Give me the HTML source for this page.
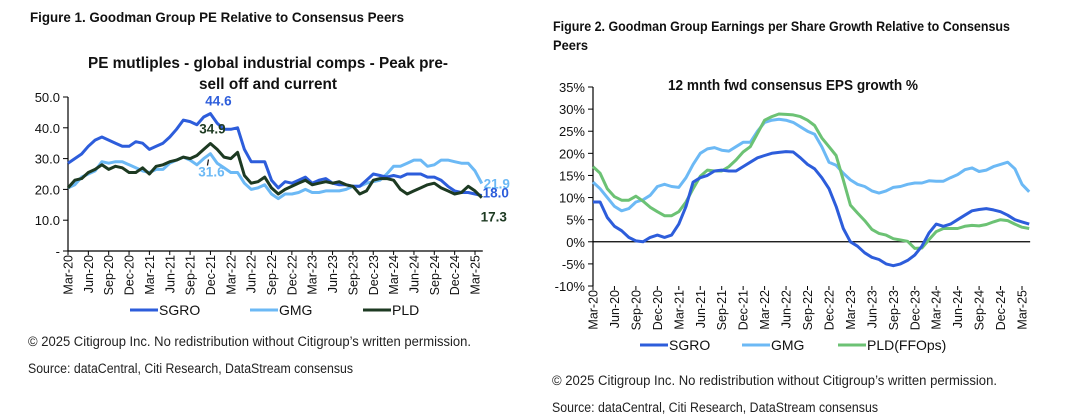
<!DOCTYPE html>
<html><head><meta charset="utf-8">
<style>
html,body{margin:0;padding:0;background:#fff;}
body{width:1077px;height:416px;overflow:hidden;position:relative;font-family:"Liberation Sans",sans-serif;}
svg{position:absolute;left:0;top:0;}
text{font-family:"Liberation Sans",sans-serif;}
</style></head><body>
<svg id="s" width="1077" height="416">
<text x="30" y="22" font-size="14" font-weight="bold" fill="#111" textLength="374" lengthAdjust="spacingAndGlyphs">Figure 1. Goodman Group PE Relative to Consensus Peers</text>
<text x="553" y="31" font-size="14" font-weight="bold" fill="#111" textLength="457" lengthAdjust="spacingAndGlyphs">Figure 2. Goodman Group Earnings per Share Growth Relative to Consensus</text>
<text x="553" y="50" font-size="14" font-weight="bold" fill="#111" textLength="35" lengthAdjust="spacingAndGlyphs">Peers</text>
<text x="268" y="68" font-size="16" font-weight="bold" text-anchor="middle" fill="#111" textLength="360" lengthAdjust="spacingAndGlyphs">PE mutliples - global industrial comps - Peak pre-</text>
<text x="268" y="89" font-size="16" font-weight="bold" text-anchor="middle" fill="#111" textLength="138" lengthAdjust="spacingAndGlyphs">sell off and current</text>
<text x="793" y="90" font-size="15" font-weight="bold" text-anchor="middle" fill="#111" textLength="250" lengthAdjust="spacingAndGlyphs">12 mnth fwd consensus EPS growth %</text>
<g id="c1"></g><g id="c2"></g>
<text x="28" y="346" font-size="13.5" fill="#222" textLength="443" lengthAdjust="spacingAndGlyphs">© 2025 Citigroup Inc. No redistribution without Citigroup’s written permission.</text>
<text x="28" y="373" font-size="13.5" fill="#222" textLength="325" lengthAdjust="spacingAndGlyphs">Source: dataCentral, Citi Research, DataStream consensus</text>
<text x="552" y="385" font-size="13.5" fill="#222" textLength="445" lengthAdjust="spacingAndGlyphs">© 2025 Citigroup Inc. No redistribution without Citigroup’s written permission.</text>
<text x="552" y="412" font-size="13.5" fill="#222" textLength="326" lengthAdjust="spacingAndGlyphs">Source: dataCentral, Citi Research, DataStream consensus</text>
</svg>
<script>
const tickLabels=["Mar-20","Jun-20","Sep-20","Dec-20","Mar-21","Jun-21","Sep-21","Dec-21","Mar-22","Jun-22","Sep-22","Dec-22","Mar-23","Jun-23","Sep-23","Dec-23","Mar-24","Jun-24","Sep-24","Dec-24","Mar-25"];
const peSGRO=[28.5,30,31.5,34,36,37,36,35,34,34,35.5,35,33,34,35,37,39.5,42.5,42,41,43.5,44.6,41.5,39.5,39.5,40,33,29,29,29,23,20.5,22.5,22,23,24,22,23,23.5,22,21.5,21.5,21,21,23,25,24.5,24,24.5,24,25,25,25,24,24,23,21,19.5,19,19,18.5,18];
const peGMG=[20.5,21.5,24,25,26,29,28.5,29,29,28,27,26,25.5,26.5,26.5,28.5,29.5,30.5,29.5,28,30,31.6,28.5,27,25.5,25.5,22,20,20.5,21.5,18.5,17,18.5,18.5,19,20,19,19,19.5,19.5,19.5,20,21,21,22,22.5,23,25,27.5,27.5,28.5,29.5,29.5,27.5,28,29.5,29.5,29,28.5,28.5,26,21.9];
const pePLD=[20.5,23,23.5,25.5,26.5,28,26.5,27.5,27,25.5,25.5,27,25,27.5,28,29,29.5,30.5,30,31,33,34.9,33,30.5,30,32,24.5,22,22.5,24,20.5,18.5,20,21,22,23,21.5,22,22.5,22,22.5,21.5,21,18.5,19.5,23,23.5,23.5,23,20,18.5,19.5,20.5,21.5,22,20.5,19.5,18.5,19,21,19.5,17.3];
const peTicks=[0,10,20,30,40,50];
const epsSGRO=[9,9,5.5,3.5,2.5,1,0.2,0,1,1.5,1,1.5,4,8,13.5,14.5,15,16,16.2,16,16,17,18,19,19.5,20,20.2,20.4,20.3,19,17.5,16.5,14.5,12,8,3,0,-1,-2.5,-3.5,-4,-5,-5.4,-5,-4.2,-3,-1,2,4,3.5,4,5,6,7,7.3,7.5,7.2,6.8,6,5,4.5,4];
const epsGMG=[13.5,12,10,8,7,7.5,9,9.5,10.5,12.5,13,12.5,12.3,14.5,17.5,20,21,21.3,20.7,20.5,21.5,22.5,22.5,25,27,27.5,27.7,27.5,27,26,25,24.3,21.5,18,17.3,15.5,14,13,12.5,11.5,11,11.5,12.3,12.5,13,13.3,13.3,13.8,13.7,13.7,14.5,15.2,16.3,16.7,15.9,16.2,17,17.5,18,16.5,13,11.3];
const epsPLD=[17,15.5,12,10.2,9.4,9.4,10.3,9.2,7.8,6.8,5.9,5.9,6.8,9,12,14.8,16.2,16,16,17,18.5,20.3,21.5,24.5,27.5,28.3,28.9,28.8,28.7,28.3,27.5,26.3,23.5,21.5,19.5,14,8.3,6.5,4.8,2.8,1.9,1.5,0.7,0.4,0.1,-1.5,-1.4,0.5,2.3,3,3,3,3.5,3.7,3.6,3.9,4.5,5,4.8,4,3.3,3];
const epsTicks=[-10,-5,0,5,10,15,20,25,30,35];

const NS="http://www.w3.org/2000/svg";
function mk(parent,tag,attrs,txt){const e=document.createElementNS(NS,tag);for(const k in attrs)e.setAttribute(k,attrs[k]);if(txt!==undefined)e.textContent=txt;parent.appendChild(e);return e;}

function drawChart(g,cfg){
  const xs=i=>cfg.x0+i*(cfg.x1-cfg.x0)/60;
  const ys=v=>cfg.yBase+(v-cfg.yMin)*(cfg.yTop-cfg.yBase)/(cfg.yMax-cfg.yMin);
  cfg.yTicks.forEach(t=>{
    const l=mk(g,'line',{x1:cfg.x0-5,x2:cfg.x0,y1:ys(t),y2:ys(t),stroke:'#000','stroke-width':1});
    
    
    const tx=mk(g,'text',{x:cfg.x0-8,y:ys(t)+5,'font-size':13,'text-anchor':'end',fill:'#111'},cfg.fmt(t));
    
    
  });
  const ya=mk(g,'line',{x1:cfg.x0,x2:cfg.x0,y1:ys(cfg.yMax),y2:ys(cfg.yMin),stroke:'#000','stroke-width':1.2});
  
  
  const xa=mk(g,'line',{x1:cfg.x0,x2:xs(61)+1,y1:ys(cfg.xAxisAt),y2:ys(cfg.xAxisAt),stroke:'#000','stroke-width':1.2});
  
  
  tickLabels.forEach((lab,k)=>{
    const x=xs(k*3);
    const tk=mk(g,'line',{x1:x,x2:x,y1:ys(cfg.yMin),y2:ys(cfg.yMin)+4,stroke:'#000'});
    
    
    const y0=ys(cfg.yMin)+4;
    const t=mk(g,'text',{x:x+4.5,y:y0,'font-size':12.5,'text-anchor':'end',fill:'#111',transform:`rotate(-90 ${x+4.5} ${y0})`},lab);
    
    
  });
  cfg.series.forEach(s=>{
    const d=s.data.map((v,i)=>(i?'L':'M')+xs(i).toFixed(1)+','+ys(v).toFixed(1)).join('');
    const p=mk(g,'path',{d:d,fill:'none',stroke:s.color,'stroke-width':3,'stroke-linejoin':'round'});
    
    
  });
  cfg.legend.forEach(L=>{
    const l=mk(g,'line',{x1:L.x,x2:L.x+28,y1:cfg.legY,y2:cfg.legY,stroke:L.color,'stroke-width':3});
    
    
    const t=mk(g,'text',{x:L.x+29,y:cfg.legY+5,'font-size':14,fill:'#111'},L.label);
    
    
  });
  return {xs,ys};
}

const c1=document.getElementById('c1');
const a1=drawChart(c1,{x0:68,x1:475,yBase:251,yTop:97,yMin:0,yMax:50,xAxisAt:0,yTicks:peTicks,
 fmt:t=>t===0?'-':t.toFixed(1),legY:310,
 series:[{name:'gmg-pe-line',data:peGMG,color:'#6cb9f5'},{name:'sgro-pe-line',data:peSGRO,color:'#2d5ddb'},{name:'pld-pe-line',data:pePLD,color:'#1d3a22'}],
 legend:[{x:130,color:'#2d5ddb',label:'SGRO'},{x:250,color:'#6cb9f5',label:'GMG'},{x:363,color:'#1d3a22',label:'PLD'}]});
function ann(g,x,y,txt,col,name){const t=mk(g,'text',{x:x,y:y,'font-size':13.5,'font-weight':'bold','text-anchor':'middle',fill:col},txt);}
ann(c1,a1.xs(21)+8,a1.ys(peSGRO[21])-8,peSGRO[21].toFixed(1),'#2d5ddb','sgro-peak-label');
ann(c1,a1.xs(21)+2,a1.ys(pePLD[21])-10,pePLD[21].toFixed(1),'#1d3a22','pld-peak-label');
ann(c1,a1.xs(21)+1,a1.ys(peGMG[21])+23,peGMG[21].toFixed(1),'#6cb9f5','gmg-peak-label');
const pk=mk(c1,'line',{x1:a1.xs(21)-2,y1:a1.ys(pePLD[21])+16,x2:a1.xs(21)-3,y2:a1.ys(pePLD[21])+22,stroke:'#111','stroke-width':1.2});


ann(c1,a1.xs(61)+15,a1.ys(peGMG[61])+5,peGMG[61].toFixed(1),'#6cb9f5','gmg-current-label');
ann(c1,a1.xs(61)+14,a1.ys(peSGRO[61])+2,peSGRO[61].toFixed(1),'#2d5ddb','sgro-current-label');
ann(c1,a1.xs(61)+12,a1.ys(pePLD[61])+24,pePLD[61].toFixed(1),'#1d3a22','pld-current-label');

const c2=document.getElementById('c2');
drawChart(c2,{x0:593,x1:1022,yBase:286,yTop:87,yMin:-10,yMax:35,xAxisAt:0,yTicks:epsTicks,
 fmt:t=>t+'%',legY:345,
 series:[{name:'gmg-eps-line',data:epsGMG,color:'#6cb9f5'},{name:'pld-eps-line',data:epsPLD,color:'#6cc274'},{name:'sgro-eps-line',data:epsSGRO,color:'#2d5ddb'}],
 legend:[{x:640,color:'#2d5ddb',label:'SGRO'},{x:742,color:'#6cb9f5',label:'GMG'},{x:838,color:'#6cc274',label:'PLD(FFOps)'}]});
</script>
</body></html>
